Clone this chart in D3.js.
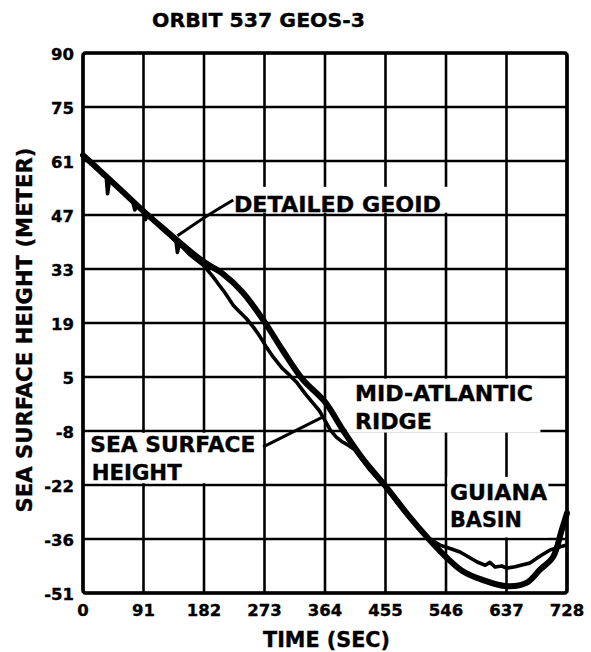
<!DOCTYPE html>
<html>
<head>
<meta charset="utf-8">
<script src="https://cdn.jsdelivr.net/npm/d3@7"></script>
<style>
  html, body { margin: 0; padding: 0; background: #fff; }
  svg { display: block; }
  text { font-family: "DejaVu Sans", "Liberation Sans", sans-serif; font-weight: bold; fill: #000; stroke: #000; stroke-width: 0.35; }
</style>
</head>
<body>
<script>
// ---- chart text ----
const titleText = "ORBIT 537 GEOS-3";
const xLabel = "TIME (SEC)";
const yLabel = "SEA SURFACE HEIGHT (METER)";

// ---- axis ticks ----
const xTicks = [0, 91, 182, 273, 364, 455, 546, 637, 728];
const yTicks = [90, 75, 61, 47, 33, 19, 5, -8, -22, -36, -51];

// ---- detailed geoid profile (time in s, height in m) ----
const geoidTime = [0, 30, 60, 91, 120, 150, 182, 210, 240, 273, 300, 330, 364, 391, 420, 455,
  490, 520, 546, 570, 600, 637, 667, 687, 707, 720, 728];
const geoidHeight = [62.5, 57.8, 53, 48, 43.6, 39.2, 34.8, 31.8, 27, 19.3, 12, 4.5, -1, -7.8, -15, -22.3,
  -30, -36, -41, -44.8, -47.3, -49.1, -48.2, -44.6, -41, -33.7, -29.3];

// ---- altimeter sea surface height (time in s, height in m) ----
const sshTime = [0, 15, 30, 35, 37, 40, 60, 75, 78, 81, 90, 94, 97, 120, 140, 142, 145, 160, 182,
  196, 205, 212, 219, 226, 235, 245, 256, 265, 275, 286, 300, 310, 322, 335, 346, 355, 361, 372,
  381, 390, 400, 409, 430, 455, 490, 520, 537, 550, 567, 580, 593, 605, 612, 620, 630, 637, 650,
  660, 672, 687, 702, 715, 728];
const sshHeight = [62.5, 60, 57.3, 56.7, 52.5, 56.2, 53, 50.3, 48.3, 49.8, 48, 45.8, 47.3, 43.5, 40, 37.3, 39.5, 36.8, 33.8,
  30.9, 28.8, 27.2, 25.4, 23.6, 22, 20.3, 18, 15.8, 13, 10.2, 7.2, 5.6, 3.6, 0.8, -1.3, -3, -4.6, -7.8,
  -9.6, -10.8, -11.8, -12.9, -17.8, -22.6, -30.3, -35.8, -37.7, -38.5, -39.6, -41, -42.4, -43.3, -42.5, -43.8, -43.5, -44.1, -43.7,
  -43.2, -42.7, -40.8, -39.1, -38.3, -37.7];

// ---- layout ----
const W = 591, H = 652;
const margin = { top: 53, right: 24, bottom: 59, left: 83 };
const plotW = W - margin.left - margin.right;
const plotH = H - margin.top - margin.bottom;

const svg = d3.select("body").append("svg")
  .attr("width", W).attr("height", H)
  .attr("viewBox", `0 0 ${W} ${H}`);

svg.append("rect").attr("width", W).attr("height", H).attr("fill", "#fff");

const x = d3.scaleLinear()
  .domain(d3.extent(xTicks))
  .range([margin.left, margin.left + plotW]);

// the height axis is labelled with rounded values on evenly spaced lines,
// so the scale is piecewise linear between the labelled grid lines
const y = d3.scaleLinear()
  .domain(yTicks)
  .range(yTicks.map((d, i) => margin.top + i * plotH / (yTicks.length - 1)));

const ink = "#000";

// ---- grid ----
const grid = svg.append("g").attr("stroke", ink).attr("stroke-width", 2.6);
grid.selectAll("line.v").data(xTicks).join("line").attr("class", "v")
  .attr("x1", d => x(d)).attr("x2", d => x(d))
  .attr("y1", margin.top).attr("y2", margin.top + plotH);
grid.selectAll("line.h").data(yTicks).join("line").attr("class", "h")
  .attr("y1", d => y(d)).attr("y2", d => y(d))
  .attr("x1", margin.left).attr("x2", margin.left + plotW);

// ---- clear panels behind the annotations (data units) ----
const panels = [
  { t0: 223, t1: 551, v0: 54.3, v1: 47.6 },   // detailed geoid
  { t0: 0, t1: 273, v0: -8, v1: -22, inset: 1.8 }, // sea surface height
  { t0: 397, t1: 688, v0: 4.6, v1: -8.4 },    // mid-atlantic ridge
  { t0: 548, t1: 700, v0: -19.9, v1: -35.6 }  // guiana basin
];
svg.append("g").selectAll("rect").data(panels).join("rect")
  .attr("fill", "#fff")
  .attr("x", d => x(d.t0) + (d.inset || 0))
  .attr("y", d => y(d.v0) + (d.inset || 0))
  .attr("width", d => x(d.t1) - x(d.t0) - 2 * (d.inset || 0))
  .attr("height", d => y(d.v1) - y(d.v0) - 2 * (d.inset || 0));

// ---- frame ----
svg.append("rect")
  .attr("x", margin.left).attr("y", margin.top)
  .attr("width", plotW).attr("height", plotH)
  .attr("rx", 3).attr("fill", "none")
  .attr("stroke", ink).attr("stroke-width", 3.6);

// ---- profiles ----
const geoid = geoidTime.map((t, i) => [t, geoidHeight[i]]);
const ssh = sshTime.map((t, i) => [t, sshHeight[i]]);

const smooth = d3.line().x(d => x(d[0])).y(d => y(d[1])).curve(d3.curveCatmullRom.alpha(0.5));
const rough = d3.line().x(d => x(d[0])).y(d => y(d[1])).curve(d3.curveLinear);

svg.append("path").datum(ssh)
  .attr("d", rough).attr("fill", "none")
  .attr("stroke", ink).attr("stroke-width", 3.6).attr("stroke-linejoin", "round");
svg.append("path").datum(geoid)
  .attr("d", smooth).attr("fill", "none")
  .attr("stroke", ink).attr("stroke-width", 6).attr("stroke-linecap", "round");

// ---- leader lines (data units) ----
const leaders = [
  [[142, 41.6], [184, 46.5], [226, 50.9]],
  [[271, -12.1], [361, -4.6]]
];
svg.append("g").selectAll("path").data(leaders).join("path")
  .attr("d", d3.line().x(d => x(d[0])).y(d => y(d[1])).curve(d3.curveCatmullRom))
  .attr("fill", "none").attr("stroke", ink).attr("stroke-width", 3);

// ---- annotations (data units for anchor, text length in px) ----
const notes = [
  { text: "DETAILED GEOID", t: 227, v: 47.8, len: 207 },
  { text: "MID-ATLANTIC", t: 409, v: -0.8, len: 178 },
  { text: "RIDGE", t: 409, v: -7.5, len: 77 },
  { text: "SEA SURFACE", t: 11, v: -13.4, len: 165 },
  { text: "HEIGHT", t: 13, v: -20.7, len: 90 },
  { text: "GUIANA", t: 552, v: -25.9, len: 97 },
  { text: "BASIN", t: 552, v: -32.9, len: 72 }
];
svg.append("g").selectAll("text").data(notes).join("text")
  .attr("x", d => x(d.t)).attr("y", d => y(d.v))
  .attr("font-size", 21)
  .attr("textLength", d => d.len).attr("lengthAdjust", "spacingAndGlyphs")
  .text(d => d.text);

// ---- tick labels ----
svg.append("g").selectAll("text").data(xTicks).join("text")
  .attr("x", d => x(d)).attr("y", margin.top + plotH + 23)
  .attr("text-anchor", "middle").attr("font-size", 16.5)
  .text(d => d);

svg.append("g").selectAll("text").data(yTicks).join("text")
  .attr("x", margin.left - 9).attr("y", d => y(d) + 6.5)
  .attr("text-anchor", "end").attr("font-size", 16.5)
  .text(d => d);

// ---- title and axis titles ----
svg.append("text")
  .attr("x", 152).attr("y", 27)
  .attr("font-size", 20)
  .attr("textLength", 213).attr("lengthAdjust", "spacingAndGlyphs")
  .text(titleText);

svg.append("text")
  .attr("x", 263).attr("y", H - 5)
  .attr("font-size", 20.5)
  .attr("textLength", 127).attr("lengthAdjust", "spacingAndGlyphs")
  .text(xLabel);

svg.append("text")
  .attr("transform", `translate(32, ${margin.top + plotH / 2 + 7}) rotate(-90)`)
  .attr("text-anchor", "middle")
  .attr("font-size", 20.5)
  .attr("textLength", 365).attr("lengthAdjust", "spacingAndGlyphs")
  .text(yLabel);
</script>
</body>
</html>
